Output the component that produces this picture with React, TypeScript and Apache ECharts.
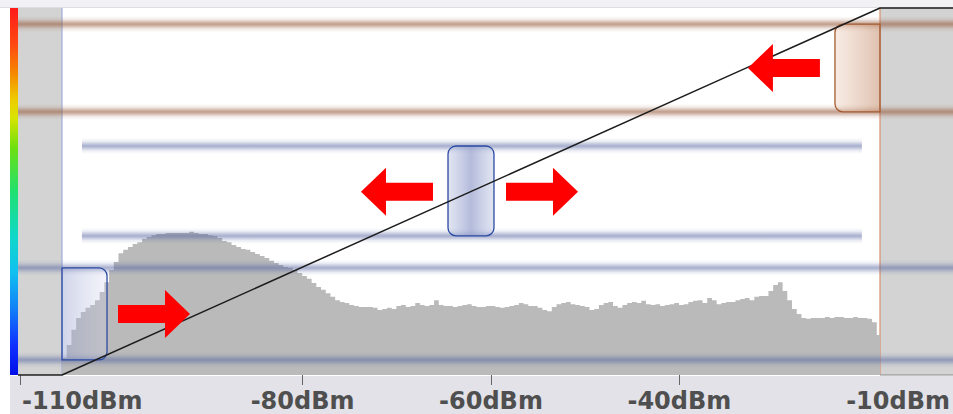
import React, { useEffect, useRef } from 'react';
import * as echarts from 'echarts';

// ---------- data ----------
const xAxisMin = -111.06;
const xAxisMax = -10.95;
const xTickValues = [-110, -80, -60, -40];
const xLabelValues = [-110, -80, -60, -40, -10];
const xTickLabels = ['-110dBm', '-80dBm', '-60dBm', '-40dBm', '-10dBm'];

const histStartDb = -105.54;
const histBinDb = 0.5;
const histEndDb = -18.7;
const histValues = [
  4.6, 8.2, 12.3, 15.5, 17.2, 18.3, 19.1, 20.4, 22.6, 25.3,
  28.6, 30.8, 33.2, 34.1, 34.9, 35.7, 36.2, 37.1, 37.6, 38.1,
  38.4, 38.4, 38.7, 38.7, 38.7, 38.7, 38.7, 39.0, 38.7, 38.4,
  38.4, 38.1, 37.9, 37.3, 36.5, 36.2, 35.4, 34.9, 34.3, 34.1,
  33.5, 33.0, 32.4, 31.9, 31.1, 30.5, 30.0, 29.4, 29.2, 28.6,
  27.8, 27.0, 26.2, 25.1, 24.0, 23.2, 22.3, 21.3, 20.4, 19.9,
  19.6, 19.1, 18.8, 18.5, 18.5, 18.5, 18.3, 17.7, 18.0, 18.3,
  18.0, 18.8, 19.1, 18.5, 18.8, 19.6, 19.1, 18.8, 19.1, 20.4,
  19.1, 18.8, 18.8, 18.5, 18.8, 19.1, 19.3, 18.8, 18.5, 18.5,
  18.8, 18.8, 18.5, 18.3, 18.5, 18.8, 19.1, 19.6, 19.3, 18.8,
  18.8, 18.3, 17.7, 17.4, 18.5, 19.3, 19.6, 19.9, 19.3, 19.1,
  18.8, 18.5, 17.7, 18.0, 19.1, 19.6, 19.9, 18.8, 18.3, 19.1,
  19.6, 19.9, 19.6, 20.2, 19.3, 19.1, 19.3, 18.8, 19.1, 19.3,
  19.6, 19.1, 19.3, 19.9, 20.2, 20.4, 19.6, 21.0, 20.4, 19.3,
  19.6, 19.9, 19.9, 20.4, 20.7, 21.0, 20.4, 21.3, 21.5, 21.5,
  22.9, 24.5, 25.3, 22.9, 20.4, 18.0, 16.6, 15.5, 15.3, 15.5,
  15.5, 15.5, 15.8, 15.5, 15.8, 15.8, 15.5, 15.5, 15.8, 15.5,
  15.5, 15.3, 14.4, 10.9,
];

const transferX = [-110.21, -105.54, -18.7, -10];
const transferY = [0, 0, 100, 100];

const colorBarRange = [-111.06, -110.21];
const lowShadeRange = [-110.21, -105.54];
const highShadeRange = [-18.7, -10];

const fullBandRange = [-110.21, -10];
const shortBandRange = [-103.42, -20.62];
const brownBandLevels = [95.6, 71.7];
const blueFullBandLevels = [29.2, 4.1];
const blueShortBandLevels = [62.4, 37.9];

const handleX0 = [-105.54, -64.56, -23.48];
const handleX1 = [-100.76, -59.68, -18.7];
const handleLow = [4.1, 37.9, 71.7];
const handleHigh = [29.2, 62.4, 95.6];

const arrowTipDb = [-91.95, -73.8, -50.76, -32.72];
const arrowTipLevel = [16.6, 49.9, 49.9, 83.65];
const arrowDir = [1, -1, 1, -1];

// ---------- build ----------
const FONT = 'DejaVu Sans';
const LABEL_COLOR = '#4f4f4f';
const LABEL_SIZE = 24;

const histData: number[][] = histValues.map((v, i) => [histStartDb + i * histBinDb, v]);
histData.push([histEndDb, histValues[histValues.length - 1]]);

const transferData = transferX.map((x, i) => [x, transferY[i]]);

// labels placed inside the visible axis extent
const labelPositions = xLabelValues.map((v) => Math.min(v, xAxisMax));

// band rows: [x0, x1, level, kind] kind 0 brown, 1 blue
const bandRows: number[][] = [
  ...brownBandLevels.map((l) => [fullBandRange[0], fullBandRange[1], l, 0]),
  ...blueFullBandLevels.map((l) => [fullBandRange[0], fullBandRange[1], l, 1]),
  ...blueShortBandLevels.map((l) => [shortBandRange[0], shortBandRange[1], l, 1]),
];

// shade rows: [x0, x1, kind] 0 color bar, 1 low shade, 2 high shade
const shadeRows = [
  [colorBarRange[0], colorBarRange[1], 0],
  [lowShadeRange[0], lowShadeRange[1], 1],
  [highShadeRange[0], highShadeRange[1], 2],
];

const handleRows = handleX0.map((x0, i) => [x0, handleX1[i], handleLow[i], handleHigh[i], i]);
const arrowRows = arrowTipDb.map((x, i) => [x, arrowTipLevel[i], arrowDir[i]]);

function lin(x2: number, y2: number, stops: [number, string][]) {
  return {
    type: 'linear', x: 0, y: 0, x2, y2,
    colorStops: stops.map(([offset, color]) => ({ offset, color })),
  };
}

const option: any = {
  animation: false,
  backgroundColor: '#ffffff',
  grid: { left: 10, top: 8, right: 0, height: 367, containLabel: false },
  xAxis: {
    type: 'value',
    min: xAxisMin,
    max: xAxisMax,
    axisLine: { show: false },
    splitLine: { show: false },
    axisTick: {
      show: true,
      customValues: xTickValues,
      length: 10,
      lineStyle: { color: '#666', width: 1 },
    },
    axisLabel: {
      customValues: labelPositions,
      alignMinLabel: 'left',
      alignMaxLabel: 'right',
      margin: 14,
      fontFamily: FONT,
      fontWeight: 'bold',
      fontSize: LABEL_SIZE,
      color: LABEL_COLOR,
      formatter: (v: number) => {
        let best = 0;
        labelPositions.forEach((t, i) => {
          if (Math.abs(t - v) < Math.abs(labelPositions[best] - v)) best = i;
        });
        const txt = xTickLabels[best];
        if (best === 0) return '{l|' + txt + '}';
        if (best === labelPositions.length - 1) return '{r|' + txt + '}';
        return txt;
      },
      rich: {
        l: { fontFamily: FONT, fontWeight: 'bold', fontSize: LABEL_SIZE, color: LABEL_COLOR, padding: [0, 0, 0, 2] },
        r: { fontFamily: FONT, fontWeight: 'bold', fontSize: LABEL_SIZE, color: LABEL_COLOR, padding: [0, 3, 0, 0] },
      },
    },
  },
  yAxis: { type: 'value', min: 0, max: 100, show: false },
  graphic: [
    { type: 'rect', z: -1, shape: { x: 0, y: 0, width: 953, height: 7 }, style: { fill: '#f2f2f4' } },
    { type: 'line', z: -1, shape: { x1: 0, y1: 7.5, x2: 953, y2: 7.5 }, style: { stroke: '#dedee2', lineWidth: 1 } },
    { type: 'rect', z: -1, shape: { x: 10, y: 376, width: 943, height: 38 }, style: { fill: '#e2e2e8' } },
  ],
  series: [
    {
      type: 'custom',
      name: 'shades',
      z: 1,
      data: shadeRows,
      renderItem: (params: any, api: any) => {
        const x0 = api.value(0), x1 = api.value(1), kind = api.value(2);
        const pTop = api.coord([x0, 100]);
        const pBot = api.coord([x1, 0]);
        const w = pBot[0] - pTop[0];
        const h = pBot[1] - pTop[1];
        if (kind === 0) {
          return {
            type: 'rect',
            shape: { x: pTop[0], y: pTop[1], width: w, height: h },
            style: {
              fill: lin(0, 1, [
                [0, '#ff1a1a'], [0.1, '#ff4a10'], [0.18, '#f58a00'], [0.25, '#eecc00'],
                [0.3, '#d8e400'], [0.38, '#6ee010'], [0.5, '#20e070'], [0.62, '#10d8c8'],
                [0.72, '#10c0f0'], [0.82, '#1080f8'], [0.92, '#1030ff'], [1, '#0010e8'],
              ]),
            },
          };
        }
        const edgeX = kind === 1 ? pBot[0] : pTop[0];
        const children: any[] = [
          { type: 'rect', shape: { x: pTop[0], y: pTop[1], width: w, height: h }, style: { fill: '#d3d3d3' } },
          {
            type: 'line',
            shape: { x1: edgeX, y1: pTop[1], x2: edgeX, y2: pBot[1] },
            style: { stroke: kind === 1 ? '#9eaedc' : '#d8906c', lineWidth: 1.2 },
          },
        ];
        if (kind === 2) {
          children.push({
            type: 'line',
            shape: { x1: pTop[0], y1: pBot[1], x2: pBot[0], y2: pBot[1] },
            style: { stroke: '#8a8a8a', lineWidth: 1 },
          });
        }
        return { type: 'group', children };
      },
    },
    {
      type: 'line',
      name: 'histogram',
      z: 2,
      step: 'end',
      symbol: 'none',
      data: histData,
      lineStyle: { width: 0, opacity: 0 },
      areaStyle: { color: '#bababa', opacity: 1 },
    },
    {
      type: 'custom',
      name: 'bands',
      z: 3,
      data: bandRows,
      renderItem: (params: any, api: any) => {
        const x0 = api.value(0), x1 = api.value(1), lv = api.value(2), kind = api.value(3);
        const p0 = api.coord([x0, lv]);
        const p1 = api.coord([x1, lv]);
        const h = 16;
        const c = kind === 0 ? '150,92,62' : '85,100,160';
        const a = kind === 0 ? 0.6 : 0.52;
        return {
          type: 'rect',
          shape: { x: p0[0], y: p0[1] - h / 2, width: p1[0] - p0[0], height: h },
          style: {
            fill: lin(0, 1, [
              [0, `rgba(${c},0)`], [0.2, `rgba(${c},${a * 0.2})`], [0.38, `rgba(${c},${a * 0.7})`],
              [0.5, `rgba(${c},${a})`], [0.62, `rgba(${c},${a * 0.7})`], [0.8, `rgba(${c},${a * 0.2})`],
              [1, `rgba(${c},0)`],
            ]),
          },
        };
      },
    },
    {
      type: 'custom',
      name: 'handles',
      z: 4,
      data: handleRows,
      renderItem: (params: any, api: any) => {
        const x0 = api.value(0), x1 = api.value(1), lo = api.value(2), hi = api.value(3), idx = api.value(4);
        const pA = api.coord([x0, hi]);
        const pB = api.coord([x1, lo]);
        const r = 8;
        let radius: number[];
        let fill: any;
        let stroke: string;
        if (idx === 0) {
          radius = [0, r, r, 0];
          fill = lin(1, 0, [[0, 'rgba(150,160,205,0.45)'], [1, 'rgba(205,210,235,0.25)']]);
          stroke = '#2b4aa3';
        } else if (idx === 1) {
          radius = [r, r, r, r];
          fill = lin(1, 0, [
            [0, 'rgba(180,190,222,0.4)'], [0.5, 'rgba(150,160,205,0.72)'], [1, 'rgba(180,190,222,0.4)'],
          ]);
          stroke = '#2b4aa3';
        } else {
          radius = [r, 0, 0, r];
          fill = lin(1, 0, [[0, 'rgba(240,212,196,0.45)'], [1, 'rgba(200,150,120,0.6)']]);
          stroke = '#a65a30';
        }
        return {
          type: 'rect',
          shape: { x: pA[0], y: pA[1], width: pB[0] - pA[0], height: pB[1] - pA[1], r: radius },
          style: { fill, stroke, lineWidth: 1.3 },
        };
      },
    },
    {
      type: 'line',
      name: 'transfer',
      z: 5,
      symbol: 'none',
      clip: false,
      data: transferData,
      lineStyle: { color: '#1c1c1c', width: 1.5 },
    },
    {
      type: 'custom',
      name: 'arrows',
      z: 6,
      data: arrowRows,
      renderItem: (params: any, api: any) => {
        const t = api.coord([api.value(0), api.value(1)]);
        const d = api.value(2);
        const tx = t[0], ty = t[1];
        const headLen = 25, headHalf = 24, shaftHalf = 9, total = 72;
        const pts = [
          [tx, ty],
          [tx - headLen * d, ty - headHalf],
          [tx - headLen * d, ty - shaftHalf],
          [tx - total * d, ty - shaftHalf],
          [tx - total * d, ty + shaftHalf],
          [tx - headLen * d, ty + shaftHalf],
          [tx - headLen * d, ty + headHalf],
        ];
        return { type: 'polygon', shape: { points: pts }, style: { fill: '#ff0000' } };
      },
    },
  ],
};

export default function App() {
  const ref = useRef<HTMLDivElement>(null);
  useEffect(() => {
    if (!ref.current) return;
    const chart = echarts.init(ref.current, null, { renderer: 'svg' });
    chart.setOption(option);
    return () => chart.dispose();
  }, []);
  return (
    <div
      ref={ref}
      style={{ position: 'absolute', left: 0, top: 0, width: 953, height: 414, background: '#fff', overflow: 'hidden' }}
    />
  );
}
